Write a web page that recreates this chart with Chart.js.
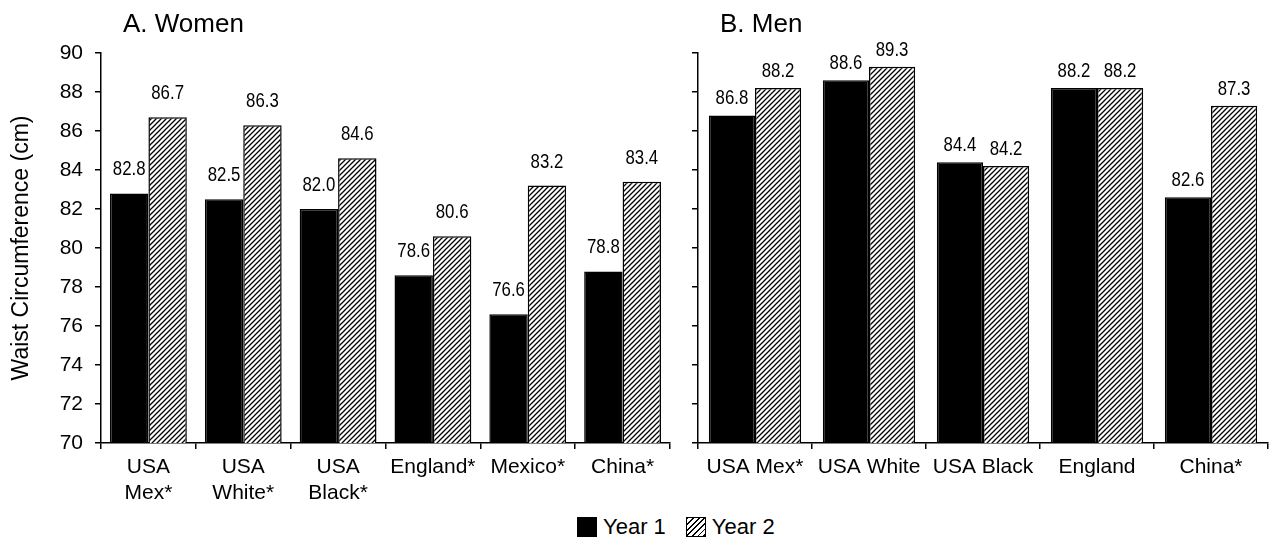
<!DOCTYPE html>
<html>
<head>
<meta charset="utf-8">
<script src="https://cdn.jsdelivr.net/npm/chart.js@4.4.1/dist/chart.umd.min.js"></script>
<style>
  body { margin: 0; background: #fff; font-family: "Liberation Sans", Arial, sans-serif; }
  #wrap { position: relative; width: 1274px; height: 540px; overflow: hidden; }
  canvas { position: absolute; top: 0; }
  .panel-title { position: absolute; top: 8px; font-size: 26px; color: #000; }
  #legend { position: absolute; left: 577px; top: 514px; display: flex; align-items: center; font-size: 22px; color: #000; }
  .sw { width: 18px; height: 18px; border: 1px solid #000; margin-right: 6px; }
  .sw.solid { background: #000; }
  .sw.hatch { background: repeating-linear-gradient(135deg, #000 0 1.2px, #fff 1.2px 4px); }
</style>
</head>
<body>
<div id="wrap">
  <canvas id="womenChart" width="680" height="500" style="left:0"></canvas>
  <canvas id="menChart" width="594" height="500" style="left:680px"></canvas>
  <div class="panel-title" style="left:123px">A. Women</div>
  <div class="panel-title" style="left:720px">B. Men</div>
  <div id="legend">
    <div class="sw solid"></div><span>Year 1</span>
    <div class="sw hatch" style="margin-left:20px"></div><span>Year 2</span>
  </div>
</div>
<script>
// data
const womenLabels = [['USA', 'Mex*'], ['USA', 'White*'], ['USA', 'Black*'], 'England*', 'Mexico*', 'China*'];
const womenYear1 = [82.8, 82.5, 82.0, 78.6, 76.6, 78.8];
const womenYear2 = [86.7, 86.3, 84.6, 80.6, 83.2, 83.4];

const menLabels = ['USA Mex*', 'USA White', 'USA Black', 'England', 'China*'];
const menYear1 = [86.8, 88.6, 84.4, 88.2, 82.6];
const menYear2 = [88.2, 89.3, 84.2, 88.2, 87.3];

const yMin = 70;
const yMax = 90;
const yStep = 2;

Chart.defaults.font.family = '"Liberation Sans", Arial, sans-serif';
Chart.defaults.color = '#000';

// diagonal hatch for Year 2
function makeHatch() {
    const c = document.createElement('canvas');
    c.width = 5; c.height = 5;
    const g = c.getContext('2d');
    g.fillStyle = '#fff';
    g.fillRect(0, 0, 5, 5);
    g.strokeStyle = '#000';
    g.lineWidth = 1.3;
    g.beginPath();
    g.moveTo(-1, 6); g.lineTo(6, -1);
    g.moveTo(-1, 1); g.lineTo(1, -1);
    g.moveTo(4, 6); g.lineTo(6, 4);
    g.stroke();
    return g.createPattern(c, 'repeat');
}
const hatch = makeHatch();

// value labels above bars (slightly condensed like the original)
function valueLabels(gap) {
    return {
        id: 'valueLabels',
        afterDatasetsDraw(chart) {
            const ctx = chart.ctx;
            ctx.save();
            ctx.font = '20px "Liberation Sans", Arial, sans-serif';
            ctx.fillStyle = '#000';
            ctx.textAlign = 'center';
            ctx.textBaseline = 'alphabetic';
            chart.data.datasets.forEach((ds, i) => {
                chart.getDatasetMeta(i).data.forEach((bar, j) => {
                    ctx.save();
                    ctx.translate(bar.x, bar.y - gap);
                    ctx.scale(0.84, 1);
                    ctx.fillText(ds.data[j].toFixed(1), 0, 0);
                    ctx.restore();
                });
            });
            ctx.restore();
        }
    };
}

function buildChart(id, labels, y1, y2, opts) {
    const ctx = document.getElementById(id).getContext('2d');
    return new Chart(ctx, {
        type: 'bar',
        data: {
            labels: labels,
            datasets: [{
                label: 'Year 1',
                data: y1,
                backgroundColor: '#000',
                borderColor: '#000',
                borderWidth: 1.5
            }, {
                label: 'Year 2',
                data: y2,
                backgroundColor: hatch,
                borderColor: '#000',
                borderWidth: 1.5
            }]
        },
        options: {
            responsive: false,
            animation: false,
            categoryPercentage: 0.81,
            barPercentage: 1.0,
            layout: { padding: { top: 53, right: opts.padRight, left: 0, bottom: 0 } },
            plugins: {
                legend: { display: false },
                tooltip: { enabled: false }
            },
            scales: {
                x: {
                    grid: { display: true, drawOnChartArea: false, drawTicks: true, tickLength: 6, color: '#000', lineWidth: 1.5, offset: true },
                    border: { display: true, color: '#000', width: 1.5 },
                    ticks: { font: { size: 21 }, padding: 6, maxRotation: 0, autoSkip: false },
                    afterFit(scale) { scale.height = 57; }
                },
                y: {
                    min: yMin,
                    max: yMax,
                    grid: { display: true, drawOnChartArea: false, drawTicks: true, tickLength: 6, color: '#000', lineWidth: 1.5 },
                    border: { display: true, color: '#000', width: 1.5 },
                    ticks: { stepSize: yStep, display: opts.showY, font: { size: 21 }, padding: 12 },
                    title: {
                        display: opts.showY,
                        text: 'Waist Circumference (cm)',
                        font: { size: 23 },
                        padding: { top: 8, bottom: 0 }
                    },
                    afterFit(scale) { scale.width = opts.yWidth; }
                }
            }
        },
        plugins: [valueLabels(opts.gap)]
    });
}

buildChart('womenChart', womenLabels, womenYear1, womenYear2, { padRight: 10, yWidth: 101, showY: true, gap: 18 });
buildChart('menChart', menLabels, menYear1, menYear2, { padRight: 6, yWidth: 18, showY: false, gap: 11 });
</script>
</body>
</html>
